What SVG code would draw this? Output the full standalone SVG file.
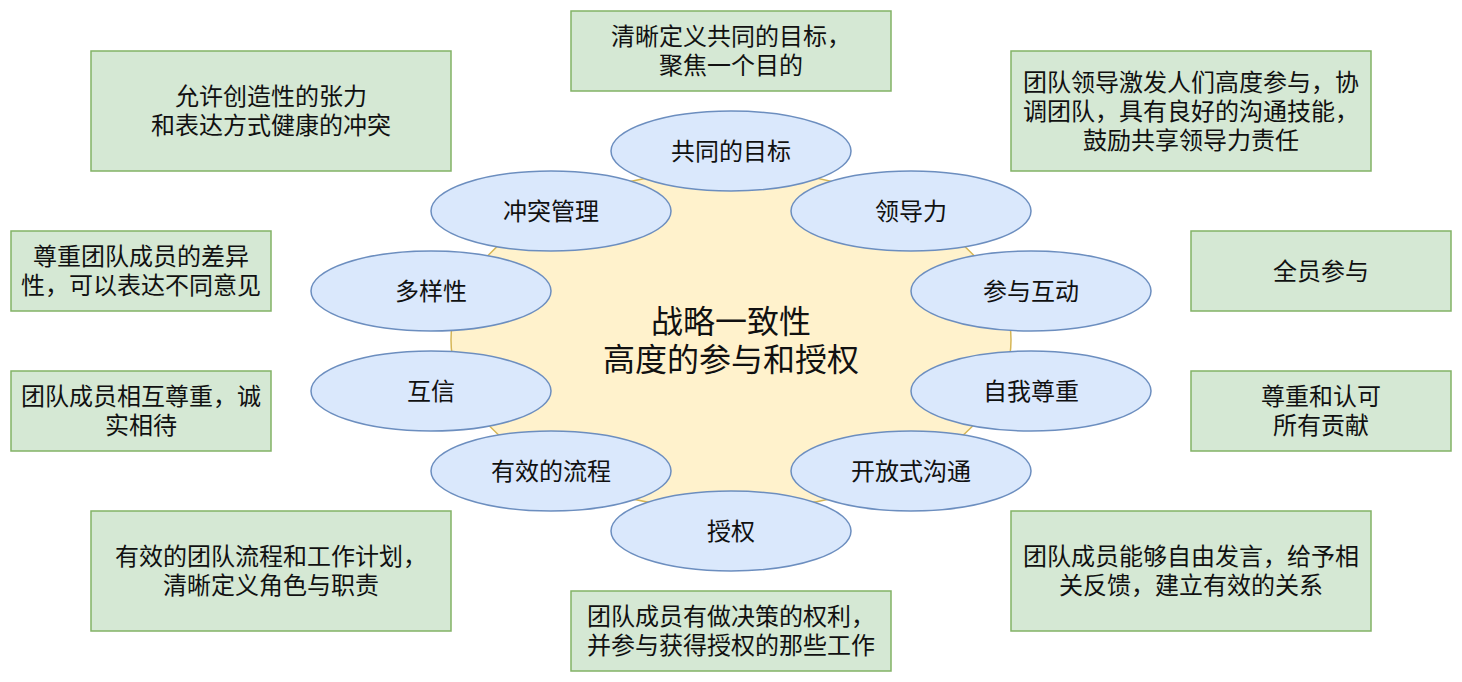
<svg xmlns="http://www.w3.org/2000/svg" width="1462" height="682" viewBox="0 0 1462 682">
<style>
.box{fill:#d5e8d4;stroke:#82b366;stroke-width:1.5}
.ell{fill:#dae8fc;stroke:#6c8ebf;stroke-width:1.5}
.core{fill:#fff2cc;stroke:#d6b656;stroke-width:1.5}
text{font-family:"Noto Sans CJK SC","Noto Sans",sans-serif;font-size:24px;fill:#111;text-anchor:middle;dominant-baseline:central}
.big{font-size:32px}
</style>
<rect width="1462" height="682" fill="#ffffff"/>
<g id="connectors"></g>
<g id="core"><ellipse class="core" cx="731" cy="340" rx="280" ry="170"/>
<text class="big" x="731" y="318.8">战略一致性<tspan x="731" dy="38.4">高度的参与和授权</tspan></text></g>
<g id="e-goal"><ellipse class="ell" cx="731" cy="151" rx="120" ry="40"/><text x="731" y="149">共同的目标</text></g>
<g id="e-conflict"><ellipse class="ell" cx="551" cy="211" rx="120" ry="40"/><text x="551" y="209">冲突管理</text></g>
<g id="e-lead"><ellipse class="ell" cx="911" cy="211" rx="120" ry="40"/><text x="911" y="209">领导力</text></g>
<g id="e-diverse"><ellipse class="ell" cx="431" cy="291" rx="120" ry="40"/><text x="431" y="289">多样性</text></g>
<g id="e-part"><ellipse class="ell" cx="1031" cy="291" rx="120" ry="40"/><text x="1031" y="289">参与互动</text></g>
<g id="e-trust"><ellipse class="ell" cx="431" cy="391" rx="120" ry="40"/><text x="431" y="389">互信</text></g>
<g id="e-self"><ellipse class="ell" cx="1031" cy="391" rx="120" ry="40"/><text x="1031" y="389">自我尊重</text></g>
<g id="e-process"><ellipse class="ell" cx="551" cy="471" rx="120" ry="40"/><text x="551" y="469">有效的流程</text></g>
<g id="e-open"><ellipse class="ell" cx="911" cy="471" rx="120" ry="40"/><text x="911" y="469">开放式沟通</text></g>
<g id="e-empower"><ellipse class="ell" cx="731" cy="531" rx="120" ry="40"/><text x="731" y="529">授权</text></g>
<g id="b-goal"><rect class="box" x="571" y="11" width="320" height="80"/><text x="731" y="34.6">清晰定义共同的目标，<tspan x="731" dy="28.8">聚焦一个目的</tspan></text></g>
<g id="b-conflict"><rect class="box" x="91" y="51" width="360" height="120"/><text x="271" y="94.6">允许创造性的张力<tspan x="271" dy="28.8">和表达方式健康的冲突</tspan></text></g>
<g id="b-lead"><rect class="box" x="1011" y="51" width="360" height="120"/><text x="1191" y="80.2">团队领导激发人们高度参与，协<tspan x="1191" dy="28.8">调团队，具有良好的沟通技能，</tspan><tspan x="1191" dy="28.8">鼓励共享领导力责任</tspan></text></g>
<g id="b-diverse"><rect class="box" x="11" y="231" width="260" height="80"/><text x="141" y="254.6">尊重团队成员的差异<tspan x="141" dy="28.8">性，可以表达不同意见</tspan></text></g>
<g id="b-part"><rect class="box" x="1191" y="231" width="260" height="80"/><text x="1321" y="269">全员参与</text></g>
<g id="b-trust"><rect class="box" x="11" y="371" width="260" height="80"/><text x="141" y="394.6">团队成员相互尊重，诚<tspan x="141" dy="28.8">实相待</tspan></text></g>
<g id="b-self"><rect class="box" x="1191" y="371" width="260" height="80"/><text x="1321" y="394.6">尊重和认可<tspan x="1321" dy="28.8">所有贡献</tspan></text></g>
<g id="b-process"><rect class="box" x="91" y="511" width="360" height="120"/><text x="271" y="554.6">有效的团队流程和工作计划，<tspan x="271" dy="28.8">清晰定义角色与职责</tspan></text></g>
<g id="b-open"><rect class="box" x="1011" y="511" width="360" height="120"/><text x="1191" y="554.6">团队成员能够自由发言，给予相<tspan x="1191" dy="28.8">关反馈，建立有效的关系</tspan></text></g>
<g id="b-empower"><rect class="box" x="571" y="591" width="320" height="80"/><text x="731" y="614.6">团队成员有做决策的权利，<tspan x="731" dy="28.8">并参与获得授权的那些工作</tspan></text></g>
</svg>
